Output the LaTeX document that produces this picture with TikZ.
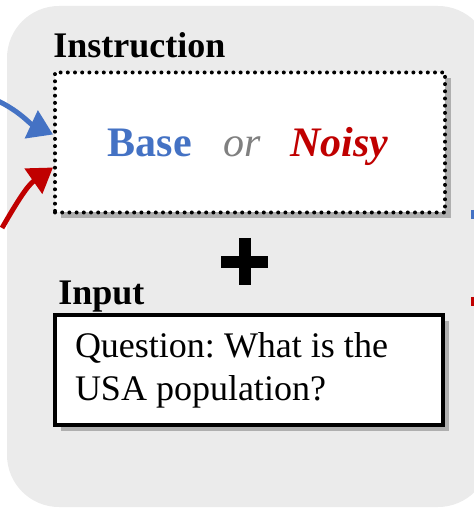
\documentclass[tikz,border=0pt]{standalone}
\usepackage{fontspec}
\setmainfont{Liberation Serif}
\usetikzlibrary{arrows.meta,shadows,positioning}

\definecolor{panelgrey}{HTML}{EBEBEB}
\definecolor{baseblue}{HTML}{4472C4}
\definecolor{noisyred}{HTML}{C00000}
\definecolor{orgrey}{HTML}{808080}

\tikzset{
  label text/.style={font=\fontsize{18}{21}\selectfont\bfseries, inner sep=0pt},
  box shadow/.style={drop shadow={shadow xshift=3pt, shadow yshift=-3pt, opacity=.45, fill=black!60}},
  instrbox/.style={draw, line width=2pt, dash pattern=on 0pt off 3.6pt, line cap=round,
    fill=white, box shadow, minimum width=195pt, minimum height=70pt},
  inputbox/.style={draw, line width=1.6pt, fill=white, box shadow, text width=174pt,
    inner xsep=10pt, minimum height=55pt, align=flush left,
    font=\fontsize{18}{21.5}\selectfont\frenchspacing},
  feed/.style={line width=2.5pt, -{Triangle[length=12pt,width=15pt]}},
}

\begin{document}
\begin{tikzpicture}[x=0.5pt,y=0.5pt]
\useasboundingbox (0,0) rectangle (474,-512);
\clip (0,0) rectangle (474,-512);

% panel
\fill [panelgrey, rounded corners=26pt] (7,-6) rectangle (490,-507);

% instruction
\node [label text, anchor=base west] (instrlabel) at (53,-58) {Instruction};
\node [instrbox] (instr) at (250,-142.5) {};
\node [font=\fontsize{21}{24}\selectfont] (choice) at (248,-146)
  {\textcolor{baseblue}{\bfseries Base}\hspace{0.75em}\textcolor{orgrey}{\itshape or}\hspace{0.7em}\textcolor{noisyred}{\bfseries\itshape Noisy}};

% plus
\draw [line width=6pt] (221,-262) -- (268,-262);
\draw [line width=6pt] (245,-238) -- (245,-285);

% input
\node [label text, anchor=base west] (inputlabel) at (58,-305) {Input};
\node [inputbox] (input) at (249,-370) {Question: What is the\\USA population?};

% arrows from the left
\coordinate (bluefrom) at (-4,-100);
\coordinate (redfrom) at (2,-228);
\draw [feed, baseblue] (bluefrom) to [out=-25, in=155] ([yshift=4pt]instr.west);
\draw [feed, noisyred] (redfrom) to [out=60, in=215] ([yshift=-12.5pt]instr.west);

% stubs on the right
\draw [baseblue, line width=1.5pt] (472,-210) -- (472,-219);
\draw [noisyred, line width=1.5pt] (472,-297) -- (472,-306);
\end{tikzpicture}
\end{document}
